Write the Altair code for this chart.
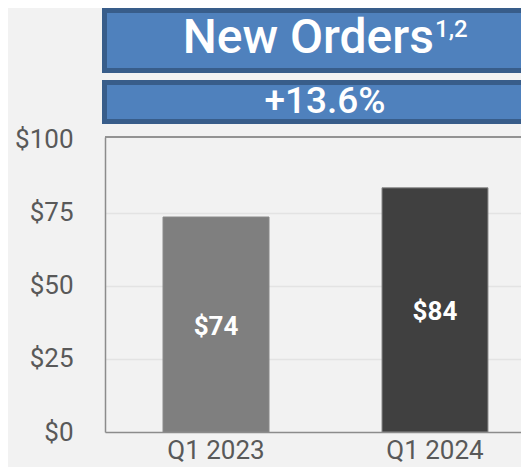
import altair as alt
import pandas as pd

# ---- data ----
quarters = ["Q1 2023", "Q1 2024"]
orders = [73.6, 83.6]
bar_labels = ["$74", "$84"]
bar_colors = ["#7f7f7f", "#404040"]
y_ticks = [0, 25, 50, 75, 100]
title_main = ["New Orders"]
title_sup = ["1,2"]
growth = ["+13.6%"]

df = pd.DataFrame({"quarter": quarters, "orders": orders,
                   "label": bar_labels, "color": bar_colors})

W, H = 416, 295
FONT = "Roboto"
AXIS_GRAY = "#595959"
FRAME = "#8c8c8c"
BOX_FILL = "#4f81bd"
BOX_EDGE = "#385d8a"

x_scale = alt.Scale(domain=quarters, range=[0, 441], paddingInner=0.516, paddingOuter=0.265)
y_scale = alt.Scale(domain=[0, 101], nice=False, zero=True)

base = alt.Chart(df)

bars = base.mark_bar(stroke="#8a8a8a", strokeWidth=1).encode(
    x=alt.X("quarter:N", scale=x_scale, sort=quarters, title=None,
            axis=alt.Axis(labelAngle=0, labelFontSize=26, labelColor=AXIS_GRAY,
                          labelFont=FONT, tickSize=0, labelPadding=5,
                          domainColor=FRAME, domainWidth=1.5, grid=False)),
    y=alt.Y("orders:Q", scale=y_scale, title=None,
            axis=alt.Axis(values=y_ticks, labelExpr="'$' + datum.value",
                          labelFontSize=26, labelColor=AXIS_GRAY, labelFont=FONT,
                          tickSize=0, labelPadding=32, domainColor=FRAME,
                          domainWidth=1.5, grid=True, gridColor="#e3e3e3",
                          gridWidth=1.5,
                          gridOpacity=alt.condition("datum.value == 100 || datum.value == 0",
                                                    alt.value(0), alt.value(1)))),
    color=alt.Color("color:N", scale=None, legend=None),
)

labels = base.transform_calculate(mid="datum.orders / 2").mark_text(
    color="white", font=FONT, fontSize=26, fontWeight="bold",
    align="center", baseline="middle", dy=2
).encode(
    x=alt.X("quarter:N", scale=x_scale, sort=quarters),
    y=alt.Y("mid:Q", scale=y_scale),
    text="label:N",
)

top_frame = base.mark_rule(color=FRAME, strokeWidth=1.5).encode(
    x=alt.value(0), x2=alt.value(W + 40), y=alt.value(0)
)

box_df = pd.DataFrame({"main": title_main, "sup": title_sup, "growth": growth})
boxes = alt.Chart(box_df)

box1 = boxes.mark_rect(fill=BOX_FILL, stroke=BOX_EDGE, strokeWidth=5).encode(
    x=alt.value(-0.5), x2=alt.value(W + 60), y=alt.value(-126.5), y2=alt.value(-66.5)
)
box2 = boxes.mark_rect(fill=BOX_FILL, stroke=BOX_EDGE, strokeWidth=5).encode(
    x=alt.value(-0.5), x2=alt.value(W + 60), y=alt.value(-54.5), y2=alt.value(-15.5)
)
t_main = boxes.mark_text(color="white", font=FONT, fontSize=48, fontWeight=500,
                         align="right", baseline="alphabetic").encode(
    x=alt.value(329), y=alt.value(-84.5), text="main:N"
)
t_sup = boxes.mark_text(color="white", font=FONT, fontSize=24, fontWeight=500,
                        align="left", baseline="alphabetic").encode(
    x=alt.value(330), y=alt.value(-100), text="sup:N"
)
t_growth = boxes.mark_text(color="white", font=FONT, fontSize=37, fontWeight=500,
                           align="center", baseline="alphabetic").encode(
    x=alt.value(220), y=alt.value(-24.5), text="growth:N"
)

chart = alt.layer(
    bars, labels, top_frame, box1, box2, t_main, t_sup, t_growth
).properties(
    width=W, height=H,
    autosize=alt.AutoSizeParams(type="none"),
    padding={"left": 97, "top": 129, "right": 0, "bottom": 35},
    background="#f2f2f2",
).configure_view(stroke=None)

chart.save("out.html", embed_options={"renderer": "svg", "actions": False})
